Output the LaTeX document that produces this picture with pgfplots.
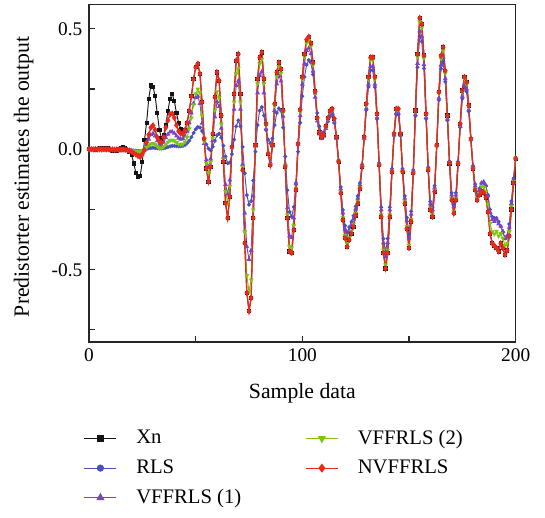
\documentclass[border=0pt]{standalone}
\usepackage{fontspec}
\setmainfont{Liberation Serif}
\usepackage{pgfplots}
\usepackage{pgfplotstable}
\pgfplotsset{compat=1.18}
\definecolor{cXn}{RGB}{20,20,20}
\definecolor{cRLS}{RGB}{74,79,191}
\definecolor{cVA}{RGB}{123,68,200}
\definecolor{cVB}{RGB}{122,199,12}
\definecolor{cNV}{RGB}{232,41,28}

\pgfplotstableread{
n xn rls va vb nv
0 0.000 0.000 0.000 0.000 0.000
1 0.002 0.000 0.000 0.000 0.000
2 0.000 0.000 0.000 0.000 -0.001
3 -0.002 0.000 0.000 0.000 0.000
4 0.000 0.000 0.000 0.000 -0.001
5 0.003 0.000 0.000 0.000 0.000
6 0.002 0.000 0.000 0.000 -0.001
7 0.005 0.000 0.000 0.000 0.000
8 0.006 0.000 0.000 0.000 -0.001
9 0.003 0.000 0.000 0.000 0.000
10 -0.002 0.000 -0.001 -0.001 -0.002
11 -0.006 0.000 -0.001 0.000 -0.001
12 -0.008 -0.001 -0.001 -0.001 -0.002
13 -0.005 0.000 -0.001 -0.001 -0.001
14 0.002 -0.001 -0.001 -0.001 -0.002
15 0.006 -0.001 -0.001 -0.001 -0.002
16 0.008 0.000 -0.001 -0.001 -0.001
17 0.004 -0.001 -0.001 -0.001 -0.002
18 -0.004 -0.001 -0.002 -0.002 -0.004
19 -0.010 -0.002 -0.004 -0.003 -0.007
20 -0.025 -0.004 -0.006 -0.005 -0.011
21 -0.059 -0.005 -0.009 -0.006 -0.016
22 -0.100 -0.006 -0.012 -0.008 -0.022
23 -0.114 -0.007 -0.015 -0.009 -0.028
24 -0.110 -0.008 -0.018 -0.010 -0.032
25 -0.052 -0.006 -0.012 -0.007 -0.020
26 0.037 -0.003 0.000 -0.002 -0.004
27 0.110 0.000 0.020 0.008 0.028
28 0.210 0.004 0.042 0.016 0.060
29 0.265 0.005 0.060 0.022 0.090
30 0.260 0.006 0.065 0.024 0.099
31 0.220 0.005 0.055 0.020 0.080
32 0.150 0.004 0.035 0.012 0.050
33 0.080 0.003 0.020 0.006 0.033
34 0.045 0.002 0.016 0.004 0.028
35 0.058 0.004 0.028 0.010 0.050
36 0.100 0.006 0.048 0.020 0.090
37 0.160 0.009 0.062 0.030 0.120
38 0.210 0.012 0.072 0.036 0.145
39 0.230 0.014 0.073 0.038 0.148
40 0.200 0.014 0.066 0.035 0.130
41 0.150 0.013 0.055 0.028 0.100
42 0.110 0.012 0.046 0.022 0.075
43 0.085 0.012 0.042 0.020 0.065
44 0.072 0.014 0.044 0.022 0.065
45 0.078 0.018 0.055 0.030 0.080
46 0.110 0.025 0.075 0.050 0.110
47 0.160 0.035 0.110 0.085 0.160
48 0.220 0.050 0.150 0.130 0.220
49 0.290 0.068 0.190 0.185 0.290
50 0.340 0.083 0.215 0.230 0.340
51 0.355 0.092 0.220 0.250 0.355
52 0.313 0.090 0.190 0.235 0.313
53 0.196 0.075 0.108 0.141 0.196
54 0.044 0.048 0.024 0.032 0.044
55 -0.080 0.020 -0.044 -0.058 -0.080
56 -0.135 0.003 -0.074 -0.097 -0.135
57 -0.073 -0.005 -0.040 -0.053 -0.073
58 0.065 0.010 0.036 0.047 0.065
59 0.216 0.035 0.134 0.162 0.216
60 0.319 0.058 0.198 0.239 0.319
61 0.285 0.065 0.177 0.214 0.285
62 0.140 0.048 0.087 0.105 0.140
63 -0.052 0.015 -0.034 -0.041 -0.052
64 -0.224 -0.030 -0.146 -0.175 -0.224
65 -0.286 -0.058 -0.186 -0.223 -0.286
66 -0.197 -0.055 -0.128 -0.154 -0.197
67 0.010 -0.020 0.007 0.008 0.010
68 0.230 0.040 0.166 0.196 0.230
69 0.368 0.095 0.265 0.313 0.368
70 0.395 0.120 0.284 0.336 0.395
71 0.230 0.095 0.166 0.196 0.230
72 -0.087 0.010 -0.063 -0.074 -0.087
73 -0.390 -0.100 -0.265 -0.343 -0.390
74 -0.596 -0.190 -0.405 -0.524 -0.596
75 -0.672 -0.230 -0.457 -0.591 -0.672
76 -0.617 -0.215 -0.420 -0.543 -0.617
77 -0.286 -0.130 -0.194 -0.252 -0.286
78 0.017 -0.010 0.014 0.016 0.017
79 0.292 0.100 0.234 0.272 0.292
80 0.381 0.160 0.305 0.354 0.381
81 0.402 0.175 0.322 0.374 0.402
82 0.292 0.140 0.234 0.272 0.292
83 0.106 0.080 0.085 0.099 0.106
84 -0.018 0.040 -0.014 -0.017 -0.018
85 -0.066 0.025 -0.056 -0.063 -0.066
86 0.017 0.045 0.014 0.016 0.017
87 0.189 0.100 0.161 0.180 0.189
88 0.319 0.150 0.271 0.303 0.319
89 0.360 0.170 0.306 0.342 0.360
90 0.333 0.160 0.283 0.316 0.333
91 0.161 0.090 0.137 0.153 0.161
92 -0.073 -0.030 -0.062 -0.069 -0.073
93 -0.286 -0.170 -0.243 -0.272 -0.286
94 -0.424 -0.260 -0.360 -0.403 -0.424
95 -0.430 -0.280 -0.366 -0.409 -0.430
96 -0.335 -0.240 -0.285 -0.318 -0.335
97 -0.169 -0.140 -0.144 -0.161 -0.169
98 0.023 -0.010 0.020 0.022 0.023
99 0.164 0.110 0.139 0.156 0.164
100 0.300 0.220 0.270 0.291 0.300
101 0.395 0.300 0.356 0.383 0.395
102 0.455 0.350 0.410 0.441 0.455
103 0.467 0.370 0.420 0.453 0.467
104 0.440 0.360 0.396 0.427 0.440
105 0.360 0.310 0.324 0.349 0.360
106 0.240 0.230 0.216 0.233 0.240
107 0.130 0.150 0.117 0.126 0.130
108 0.070 0.095 0.063 0.068 0.070
109 0.050 0.070 0.045 0.049 0.050
110 0.060 0.070 0.054 0.058 0.060
111 0.095 0.090 0.086 0.092 0.095
112 0.130 0.115 0.117 0.126 0.130
113 0.160 0.135 0.144 0.155 0.160
114 0.168 0.145 0.151 0.163 0.168
115 0.127 0.109 0.114 0.123 0.127
116 0.051 0.044 0.046 0.049 0.051
117 -0.052 -0.045 -0.047 -0.050 -0.052
118 -0.183 -0.157 -0.165 -0.178 -0.183
119 -0.293 -0.252 -0.264 -0.284 -0.293
120 -0.369 -0.317 -0.332 -0.358 -0.369
121 -0.404 -0.347 -0.364 -0.392 -0.404
122 -0.376 -0.323 -0.338 -0.365 -0.376
123 -0.350 -0.301 -0.315 -0.340 -0.350
124 -0.321 -0.276 -0.289 -0.311 -0.321
125 -0.275 -0.237 -0.248 -0.267 -0.275
126 -0.225 -0.194 -0.203 -0.218 -0.225
127 -0.163 -0.140 -0.147 -0.158 -0.163
128 -0.073 -0.063 -0.066 -0.071 -0.073
129 0.051 0.044 0.046 0.049 0.051
130 0.189 0.163 0.170 0.183 0.189
131 0.300 0.258 0.270 0.291 0.300
132 0.381 0.328 0.343 0.370 0.381
133 0.381 0.328 0.343 0.370 0.381
134 0.300 0.258 0.270 0.291 0.300
135 0.147 0.126 0.132 0.143 0.147
136 -0.066 -0.057 -0.059 -0.064 -0.066
137 -0.280 -0.241 -0.252 -0.272 -0.280
138 -0.431 -0.371 -0.388 -0.418 -0.431
139 -0.495 -0.426 -0.446 -0.480 -0.495
140 -0.431 -0.371 -0.388 -0.418 -0.431
141 -0.280 -0.241 -0.252 -0.272 -0.280
142 -0.094 -0.081 -0.085 -0.091 -0.094
143 0.065 0.056 0.059 0.063 0.065
144 0.168 0.144 0.151 0.163 0.168
145 0.168 0.144 0.151 0.163 0.168
146 0.065 0.056 0.059 0.063 0.065
147 -0.094 -0.081 -0.085 -0.091 -0.094
148 -0.225 -0.194 -0.203 -0.218 -0.225
149 -0.330 -0.284 -0.297 -0.320 -0.330
150 -0.410 -0.353 -0.369 -0.398 -0.410
151 -0.300 -0.258 -0.270 -0.291 -0.300
152 -0.100 -0.086 -0.090 -0.097 -0.100
153 0.161 0.138 0.145 0.156 0.161
154 0.395 0.340 0.356 0.383 0.395
155 0.545 0.469 0.491 0.529 0.545
156 0.520 0.447 0.468 0.504 0.520
157 0.390 0.335 0.351 0.378 0.390
158 0.147 0.126 0.132 0.143 0.147
159 -0.087 -0.075 -0.078 -0.084 -0.087
160 -0.252 -0.217 -0.227 -0.244 -0.252
161 -0.280 -0.241 -0.252 -0.272 -0.280
162 -0.176 -0.151 -0.158 -0.171 -0.176
163 0.017 0.015 0.015 0.016 0.017
164 0.237 0.204 0.213 0.230 0.237
165 0.388 0.334 0.349 0.376 0.388
166 0.423 0.364 0.381 0.410 0.423
167 0.326 0.280 0.293 0.316 0.326
168 0.140 0.120 0.126 0.136 0.140
169 -0.059 -0.051 -0.053 -0.057 -0.059
170 -0.211 -0.181 -0.190 -0.205 -0.211
171 -0.266 -0.229 -0.239 -0.258 -0.266
172 -0.211 -0.181 -0.190 -0.205 -0.211
173 -0.059 -0.051 -0.053 -0.057 -0.059
174 0.106 0.091 0.095 0.103 0.106
175 0.244 0.210 0.220 0.237 0.244
176 0.300 0.258 0.270 0.291 0.300
177 0.278 0.239 0.250 0.270 0.278
178 0.182 0.157 0.164 0.177 0.182
179 0.044 0.038 0.040 0.043 0.044
180 -0.080 -0.069 -0.072 -0.078 -0.080
181 -0.169 -0.145 -0.152 -0.164 -0.169
182 -0.211 -0.181 -0.190 -0.205 -0.211
183 -0.190 -0.163 -0.171 -0.184 -0.190
184 -0.175 -0.140 -0.140 -0.154 -0.175
185 -0.180 -0.140 -0.135 -0.158 -0.180
186 -0.200 -0.150 -0.150 -0.176 -0.200
187 -0.259 -0.190 -0.194 -0.228 -0.259
188 -0.350 -0.250 -0.262 -0.308 -0.350
189 -0.390 -0.280 -0.293 -0.343 -0.390
190 -0.400 -0.285 -0.300 -0.352 -0.400
191 -0.410 -0.285 -0.290 -0.340 -0.410
192 -0.424 -0.300 -0.310 -0.360 -0.424
193 -0.390 -0.320 -0.320 -0.350 -0.390
194 -0.410 -0.345 -0.340 -0.370 -0.410
195 -0.438 -0.370 -0.370 -0.400 -0.438
196 -0.420 -0.360 -0.365 -0.390 -0.420
197 -0.360 -0.310 -0.324 -0.342 -0.360
198 -0.250 -0.215 -0.225 -0.238 -0.250
199 -0.140 -0.120 -0.126 -0.133 -0.140
200 -0.040 -0.034 -0.036 -0.038 -0.040
}\data

\begin{document}
\fontsize{14.5}{17}\selectfont
\begin{tikzpicture}
\useasboundingbox (-66.75pt,-131.25pt) rectangle (342pt,256.5pt);
\begin{axis}[
  at={(0pt,0pt)}, anchor=south west,
  scale only axis, width=320pt, height=253pt,
  xmin=0, xmax=200, ymin=-0.8, ymax=0.6,
  xtick={0,100,200}, minor xtick={50,150},
  ytick={-0.5,0,0.5}, minor ytick={-0.75,-0.25,0.25},
  tick align=inside, xtick pos=bottom, ytick pos=left,
  major tick length=4.5pt, minor tick length=4.5pt,
  every tick/.style={black!85, line width=0.8pt},
  axis line style={black!85, line width=1pt},
  /pgf/number format/assume math mode=true,
  yticklabel style={/pgf/number format/.cd, fixed, fixed zerofill, precision=1},
  xlabel={Sample data},
  ylabel={Predistorter estimates the output},
  label style={font=\fontsize{16.3}{19}\selectfont},
  xlabel style={at={(axis description cs:0.5,-0.152)}, anchor=center},
  ylabel style={at={(axis description cs:-0.153,0.49)}, anchor=center},
  legend columns=2,
  legend cell align=left,
  legend style={draw=none, fill=none, at={(axis description cs:-0.022,-0.244)}, anchor=north west,
    font=\fontsize{15.5}{18}\selectfont,
    row sep=5.5pt,
    /tikz/every odd column/.append style={column sep=12.5pt},
    /tikz/every even column/.append style={column sep=46pt}},
  legend image code/.code={\draw[mark repeat=2,mark phase=2,#1] plot coordinates {(0pt,0pt) (12pt,0pt) (24pt,0pt)};},
]
\addplot[cXn, line width=0.7pt, mark=square*, mark size=1.2pt, mark options={solid}, forget plot] table[x=n,y=xn]{\data};
\addplot[cRLS, line width=0.7pt, mark=*, mark size=1.1pt, mark options={solid}, forget plot] table[x=n,y=rls]{\data};
\addplot[cVA, line width=0.7pt, mark=triangle*, mark size=1.4pt, mark options={solid}, forget plot] table[x=n,y=va]{\data};
\addplot[cVB, line width=0.7pt, mark=triangle*, mark size=1.4pt, mark options={solid, rotate=180}, forget plot] table[x=n,y=vb]{\data};
\addplot[cNV, line width=1pt, mark=diamond*, mark size=1.6pt, mark options={solid}, forget plot] table[x=n,y=nv]{\data};

\addlegendimage{cXn, line width=0.8pt, mark=square*, mark size=2.2pt}
\addlegendentry{Xn}
\addlegendimage{cVB, line width=0.8pt, mark=triangle*, mark size=2.8pt, mark options={rotate=180}}
\addlegendentry{VFFRLS (2)}
\addlegendimage{cRLS, line width=0.8pt, mark=*, mark size=2.3pt}
\addlegendentry{RLS}
\addlegendimage{cNV, line width=0.8pt, mark=diamond*, mark size=2.8pt}
\addlegendentry{NVFFRLS}
\addlegendimage{cVA, line width=0.8pt, mark=triangle*, mark size=2.8pt}
\addlegendentry{VFFRLS (1)}
\end{axis}
\end{tikzpicture}
\end{document}
